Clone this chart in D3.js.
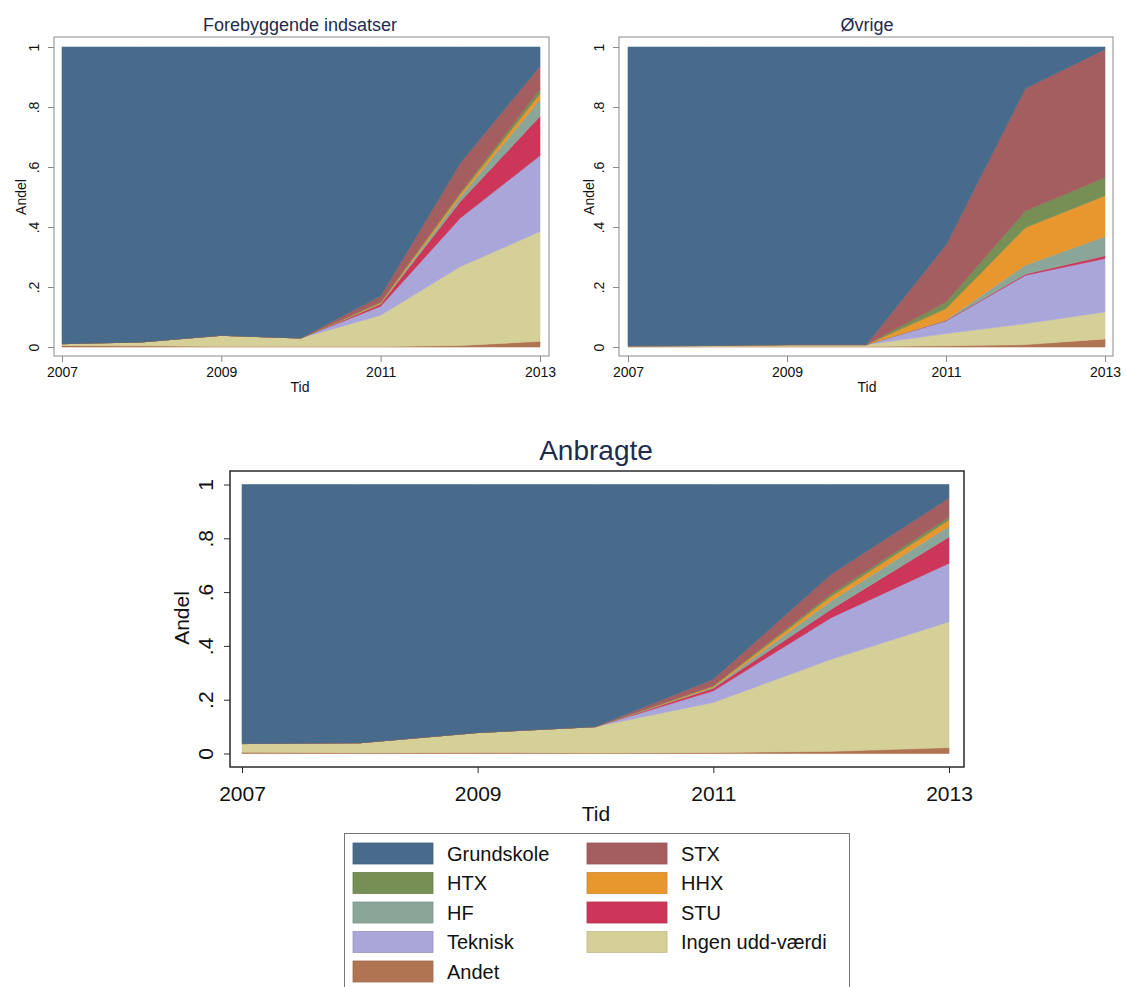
<!DOCTYPE html>
<html>
<head>
<meta charset="utf-8" />
<title>Andel efter uddannelse</title>
<script src="https://cdn.jsdelivr.net/npm/d3@7"></script>
<style>
    body { margin: 0; background: #fff; }
    svg { display: block; font-family: "Liberation Sans", Arial, sans-serif; }
</style>
</head>
<body>
<script>
    // years on the x axis
    const years = [2007, 2008, 2009, 2010, 2011, 2012, 2013];
    const xTicks = [2007, 2009, 2011, 2013];
    const yTicks = [0, 0.2, 0.4, 0.6, 0.8, 1];
    const yTickLabels = ["0", ".2", ".4", ".6", ".8", "1"];

    // stacking order, bottom to top
    const seriesNames = ["Andet", "Ingen udd-værdi", "Teknisk", "STU", "HF", "HHX", "HTX", "STX", "Grundskole"];
    // legend order (row by row, two columns)
    const legendOrder = ["Grundskole", "STX", "HTX", "HHX", "HF", "STU", "Teknisk", "Ingen udd-værdi", "Andet"];

    const colors = {
        "Grundskole": "#486b8b",
        "STX": "#a45e60",
        "HTX": "#768f55",
        "HHX": "#e8972f",
        "HF": "#8aa699",
        "STU": "#cc3658",
        "Teknisk": "#a9a6da",
        "Ingen udd-værdi": "#d5cf98",
        "Andet": "#b07452"
    };

    // shares per year
    const forebyggende = {
        "Andet":           [0.005, 0.004, 0.002, 0.002, 0.002, 0.005, 0.019],
        "Ingen udd-værdi": [0.006, 0.013, 0.037, 0.028, 0.104, 0.263, 0.366],
        "Teknisk":         [0, 0, 0, 0, 0.030, 0.162, 0.253],
        "STU":             [0, 0, 0, 0, 0.007, 0.055, 0.131],
        "HF":              [0, 0, 0, 0, 0.002, 0.015, 0.056],
        "HHX":             [0, 0, 0, 0, 0.003, 0.010, 0.019],
        "HTX":             [0, 0, 0, 0, 0.002, 0.005, 0.016],
        "STX":             [0, 0, 0, 0, 0.020, 0.098, 0.076],
        "Grundskole":      [0.989, 0.983, 0.961, 0.970, 0.830, 0.387, 0.064]
    };

    const oevrige = {
        "Andet":           [0.002, 0.002, 0.002, 0.002, 0.004, 0.008, 0.027],
        "Ingen udd-værdi": [0.002, 0.003, 0.006, 0.006, 0.041, 0.070, 0.090],
        "Teknisk":         [0, 0, 0, 0, 0.042, 0.161, 0.178],
        "STU":             [0, 0, 0, 0, 0.001, 0.004, 0.009],
        "HF":              [0, 0, 0, 0, 0.002, 0.030, 0.064],
        "HHX":             [0, 0, 0, 0, 0.038, 0.125, 0.136],
        "HTX":             [0, 0, 0, 0, 0.022, 0.056, 0.061],
        "STX":             [0, 0, 0, 0, 0.190, 0.408, 0.427],
        "Grundskole":      [0.996, 0.995, 0.992, 0.992, 0.660, 0.138, 0.008]
    };

    const anbragte = {
        "Andet":           [0.005, 0.003, 0.004, 0.002, 0.004, 0.008, 0.022],
        "Ingen udd-værdi": [0.032, 0.037, 0.074, 0.098, 0.186, 0.342, 0.468],
        "Teknisk":         [0, 0, 0, 0, 0.043, 0.155, 0.217],
        "STU":             [0, 0, 0, 0, 0.010, 0.031, 0.098],
        "HF":              [0, 0, 0, 0, 0.003, 0.031, 0.040],
        "HHX":             [0, 0, 0, 0, 0.004, 0.018, 0.023],
        "HTX":             [0, 0, 0, 0, 0.002, 0.009, 0.011],
        "STX":             [0, 0, 0, 0, 0.024, 0.072, 0.071],
        "Grundskole":      [0.963, 0.960, 0.922, 0.900, 0.724, 0.334, 0.050]
    };

    const svg = d3.select("body").append("svg")
        .attr("width", 1126)
        .attr("height", 987);

    const drawPanel = (cfg) => {
        const g = svg.append("g");

        const x = d3.scaleLinear().domain([2007, 2013]).range([cfg.x0, cfg.x1]);
        const y = d3.scaleLinear().domain([0, 1]).range([cfg.y0, cfg.y1]);

        const rows = years.map((yr, i) => {
            const r = { year: yr };
            seriesNames.forEach(s => r[s] = cfg.data[s][i]);
            return r;
        });

        const stacked = d3.stack().keys(seriesNames)(rows);

        const area = d3.area()
            .x(d => x(d.data.year))
            .y0(d => y(d[0]))
            .y1(d => y(d[1]));

        g.selectAll("path.layer")
            .data(stacked)
            .join("path")
            .attr("class", "layer")
            .attr("d", area)
            .attr("fill", d => colors[d.key])
            .attr("stroke", d => colors[d.key])
            .attr("stroke-width", 0.6);

        // plot region frame
        g.append("rect")
            .attr("x", cfg.fx0)
            .attr("y", cfg.fy0)
            .attr("width", cfg.fx1 - cfg.fx0)
            .attr("height", cfg.fy1 - cfg.fy0)
            .attr("fill", "none")
            .attr("stroke", cfg.frameColor)
            .attr("stroke-width", cfg.frameWidth);

        // x axis
        const xAxis = d3.axisBottom(x)
            .tickValues(xTicks)
            .tickFormat(d3.format("d"))
            .tickSize(cfg.tick)
            .tickPadding(cfg.xPad);

        const xg = g.append("g")
            .attr("transform", `translate(0,${cfg.fy1})`)
            .call(xAxis);
        xg.select(".domain").remove();
        xg.selectAll("line").attr("stroke", cfg.frameColor);
        xg.selectAll("text")
            .attr("dy", 0)
            .attr("y", cfg.xPad)
            .attr("fill", "#111")
            .style("font-size", cfg.tickFont + "px")
            .style("font-family", "'Liberation Sans', Arial, sans-serif");

        // y axis, labels turned
        const yAxis = d3.axisLeft(y)
            .tickValues(yTicks)
            .tickFormat((d, i) => yTickLabels[i])
            .tickSize(cfg.tick);

        const yg = g.append("g")
            .attr("transform", `translate(${cfg.fx0},0)`)
            .call(yAxis);
        yg.select(".domain").remove();
        yg.selectAll("line").attr("stroke", cfg.frameColor);
        yg.selectAll("text")
            .attr("transform", "rotate(-90)")
            .attr("x", 0)
            .attr("y", -cfg.yPad)
            .attr("dy", 0)
            .attr("text-anchor", "middle")
            .attr("fill", "#111")
            .style("font-size", cfg.tickFont + "px")
            .style("font-family", "'Liberation Sans', Arial, sans-serif");

        // titles
        g.append("text")
            .attr("x", cfg.titleX)
            .attr("y", cfg.titleY)
            .attr("text-anchor", "middle")
            .attr("fill", "#1e2b4d")
            .style("font-size", cfg.titleFont + "px")
            .text(cfg.title);

        g.append("text")
            .attr("x", cfg.titleX)
            .attr("y", cfg.tidY)
            .attr("text-anchor", "middle")
            .attr("fill", "#111")
            .style("font-size", cfg.tickFont + "px")
            .text("Tid");

        g.append("text")
            .attr("transform", `translate(${cfg.andelX},${cfg.andelY}) rotate(-90)`)
            .attr("text-anchor", "middle")
            .attr("fill", "#111")
            .style("font-size", cfg.tickFont + "px")
            .text("Andel");
    };

    drawPanel({
        data: forebyggende, title: "Forebyggende indsatser",
        x0: 62, x1: 540, y0: 347, y1: 47,
        fx0: 54, fx1: 549, fy0: 37, fy1: 356,
        frameColor: "#8a8a8a", frameWidth: 1, tick: 6, xPad: 21, yPad: 15,
        tickFont: 14, titleFont: 18, titleX: 300, titleY: 31, tidY: 392,
        andelX: 26, andelY: 197
    });

    drawPanel({
        data: oevrige, title: "Øvrige",
        x0: 628, x1: 1105, y0: 347, y1: 47,
        fx0: 619, fx1: 1113, fy0: 37, fy1: 356,
        frameColor: "#8a8a8a", frameWidth: 1, tick: 6, xPad: 21, yPad: 15,
        tickFont: 14, titleFont: 18, titleX: 867, titleY: 31, tidY: 392,
        andelX: 594, andelY: 197
    });

    drawPanel({
        data: anbragte, title: "Anbragte",
        x0: 242, x1: 949, y0: 753.5, y1: 484.5,
        fx0: 230, fx1: 964, fy0: 471, fy1: 767,
        frameColor: "#2a2a2a", frameWidth: 1.5, tick: 6, xPad: 34, yPad: 17,
        tickFont: 21, titleFont: 28, titleX: 596, titleY: 460, tidY: 821,
        andelX: 189, andelY: 618
    });

    // legend
    const legend = svg.append("g");
    legend.append("rect")
        .attr("x", 344.5).attr("y", 833.5)
        .attr("width", 505).attr("height", 170)
        .attr("fill", "#fff")
        .attr("stroke", "#777")
        .attr("stroke-width", 1);

    const items = legend.selectAll("g.item")
        .data(legendOrder)
        .join("g")
        .attr("class", "item")
        .attr("transform", (d, i) => `translate(${i % 2 === 0 ? 353 : 587},${843 + Math.floor(i / 2) * 29.5})`);

    items.append("rect")
        .attr("width", 80).attr("height", 21)
        .attr("fill", d => colors[d])
        .attr("stroke", d => d3.color(colors[d]).darker(0.3))
        .attr("stroke-width", 0.8);

    items.append("text")
        .attr("x", 94).attr("y", 17.5)
        .attr("fill", "#111")
        .style("font-size", "20px")
        .text(d => d);
</script>
</body>
</html>
